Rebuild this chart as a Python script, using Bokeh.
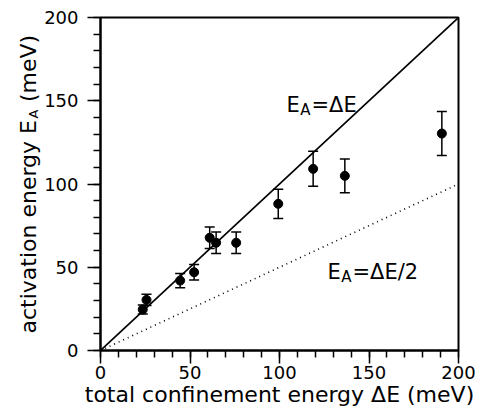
import math
from bokeh.plotting import figure
from bokeh.models import (ColumnDataSource, Whisker, TeeHead, Label, Range1d,
                          FixedTicker)
from bokeh.embed import file_html
from bokeh.resources import INLINE

# ---- data ----
delta_e = [23.6, 25.7, 44.5, 52.3, 61.0, 64.6, 75.8, 99.3, 118.8, 136.5, 190.7]
e_a = [24.6, 30.4, 42.0, 47.0, 67.7, 64.7, 64.7, 88.1, 109.1, 104.9, 130.3]
e_a_err = [2.7, 3.4, 4.3, 4.6, 6.5, 6.5, 6.5, 8.8, 10.5, 10.1, 13.2]
line_x = [0, 200]
major_ticks = [0, 50, 100, 150, 200]
minor_ticks = list(range(0, 201, 10))

FONT = "DejaVu Sans"

p = figure(width=484, height=413, output_backend="svg", toolbar_location=None,
           x_range=Range1d(0, 200), y_range=Range1d(0, 200),
           min_border_left=100, min_border_right=26, min_border_top=17,
           min_border_bottom=63)
p.grid.visible = False
p.outline_line_color = "black"
p.outline_line_width = 2
p.background_fill_color = "white"
p.border_fill_color = "white"

for ax in (p.xaxis[0], p.yaxis[0]):
    ax.ticker = FixedTicker(ticks=major_ticks, minor_ticks=minor_ticks)
    ax.axis_line_width = 2
    ax.axis_line_color = "black"
    ax.major_tick_out = 13
    ax.major_tick_in = 0
    ax.minor_tick_out = 7
    ax.minor_tick_in = 0
    ax.major_tick_line_width = 1.5
    ax.minor_tick_line_width = 1.5
    ax.major_tick_line_color = "black"
    ax.minor_tick_line_color = "black"
    ax.major_label_text_font = FONT
    ax.major_label_text_font_size = "18px"
    ax.major_label_text_color = "black"
p.xaxis[0].major_label_standoff = 2
p.yaxis[0].major_label_standoff = 9

LFS = 22
p.xaxis[0].axis_label = "total confinement energy ΔE (meV)"
p.xaxis[0].axis_label_text_font = FONT
p.xaxis[0].axis_label_text_font_size = f"{LFS}px"
p.xaxis[0].axis_label_text_font_style = "normal"
p.xaxis[0].axis_label_text_color = "black"
p.xaxis[0].axis_label_standoff = 0

# theory lines
p.line(line_x, [v for v in line_x], line_color="black", line_width=1.6)
p.line(line_x, [v / 2 for v in line_x], line_color="black", line_width=1.6,
       line_dash="1 4")

# data with error bars
src = ColumnDataSource(dict(
    x=delta_e, y=e_a,
    upper=[a + b for a, b in zip(e_a, e_a_err)],
    lower=[a - b for a, b in zip(e_a, e_a_err)],
))
p.add_layout(Whisker(base="x", upper="upper", lower="lower", source=src,
                     dimension="height", line_width=1.5, line_color="black",
                     upper_head=TeeHead(size=10, line_width=1.5, line_color="black"),
                     lower_head=TeeHead(size=10, line_width=1.5, line_color="black")))
p.scatter("x", "y", source=src, size=9, fill_color="black", line_color="black")

# annotations
def eq_label(x, y, rest, fs=21):
    w_e = 0.632 * fs
    sub_fs = round(fs * 0.7)
    p.add_layout(Label(x=x, y=y, text="E", text_font=FONT, text_color="black",
                       text_font_size=f"{fs}px", text_baseline="alphabetic",
                       text_align="left"))
    p.add_layout(Label(x=x, y=y, text="A", text_font=FONT, x_offset=w_e + 0.5,
                       y_offset=-5, text_font_size=f"{sub_fs}px", text_color="black",
                       text_baseline="alphabetic", text_align="left"))
    p.add_layout(Label(x=x, y=y, text=rest, text_font=FONT, text_color="black",
                       x_offset=w_e + 0.684 * sub_fs + 1.5,
                       text_font_size=f"{fs}px", text_baseline="alphabetic",
                       text_align="left"))

eq_label(103.9, 147.7, "=ΔE")
eq_label(126.8, 47.4, "=ΔE/2")

# y axis title (with subscript), placed in the left side panel
yl_x, yl_y = -31.8, 10.2
XOFF = -15
first_w = 9.724 * LFS
SFS = 13
p.add_layout(Label(x=yl_x, y=yl_y, text="activation energy E\u2002 (meV)",
                   angle=math.pi / 2, x_offset=XOFF,
                   text_font=FONT, text_font_size=f"{LFS}px", text_color="black",
                   text_align="left", text_baseline="alphabetic"), "left")
p.add_layout(Label(x=yl_x, y=yl_y, text="A", angle=math.pi / 2,
                   x_offset=XOFF + 5, y_offset=first_w + 1, text_color="black",
                   text_font=FONT, text_font_size=f"{SFS}px",
                   text_align="left", text_baseline="alphabetic"), "left")

open("out.html", "w").write(file_html(p, INLINE))
